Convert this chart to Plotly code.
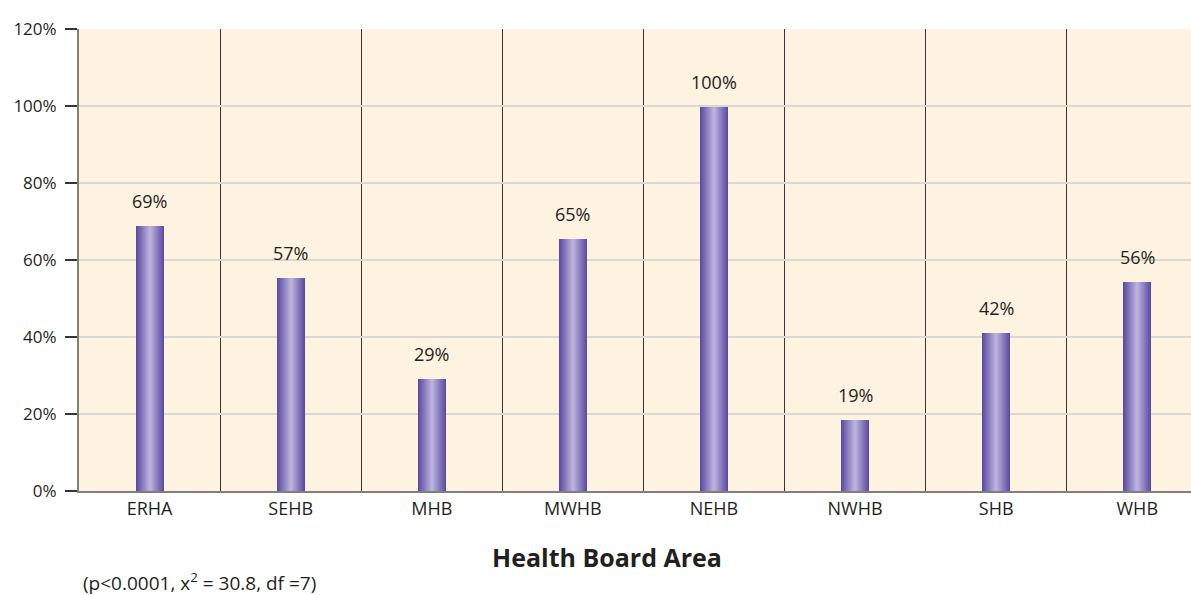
import plotly.graph_objects as go

# data
areas = ['ERHA', 'SEHB', 'MHB', 'MWHB', 'NEHB', 'NWHB', 'SHB', 'WHB']
values = [68.8, 55.2, 29.1, 65.5, 99.8, 18.4, 41.0, 54.3]
labels = ['69%', '57%', '29%', '65%', '100%', '19%', '42%', '56%']
y_ticks = [0, 20, 40, 60, 80, 100, 120]

FONT = 'Open Sans'
TXT = '#231F20'

fig = go.Figure()

# cylinder look: stack narrower, lighter bars on top of each other
n_layers = 14
dark = (92, 76, 160)
light = (186, 178, 222)
bar_w = 0.198
for k in range(n_layers):
    t = k / (n_layers - 1)
    c = tuple(round(dark[i] + (light[i] - dark[i]) * t) for i in range(3))
    fig.add_trace(go.Bar(
        x=list(range(len(areas))),
        y=values,
        width=bar_w * (1 - k / n_layers),
        marker=dict(color='rgb(%d,%d,%d)' % c, line=dict(width=0)),
        hoverinfo='skip',
        showlegend=False,
    ))

# value labels above the bars
for i, (v, lab) in enumerate(zip(values, labels)):
    fig.add_annotation(x=i, y=v, text=lab, showarrow=False, yshift=25,
                       font=dict(family=FONT, size=18, color=TXT))

fig.add_annotation(x=0.475, y=-0.143, xref='paper', yref='paper', yanchor='middle',
                   text='<b>Health Board Area</b>', showarrow=False,
                   font=dict(family=FONT, size=25, color=TXT))
fig.add_annotation(x=0.002, y=-0.196, xref='paper', yref='paper',
                   xanchor='left', yanchor='middle',
                   text='(p<0.0001, x<sup>2</sup> = 30.8, df =7)', showarrow=False,
                   font=dict(family=FONT, size=19, color=TXT))

fig.update_layout(
    width=1191, height=595,
    margin=dict(l=79, r=0, t=29, b=104, autoexpand=False),
    paper_bgcolor='white',
    plot_bgcolor='#FEF2E0',
    barmode='overlay',
    bargap=0,
    font=dict(family=FONT, size=18, color=TXT),
    xaxis=dict(
        range=[-0.5, -0.5 + 1112 / 141.1],
        tickvals=list(range(len(areas))),
        ticktext=areas,
        showgrid=False, automargin=False,
        showline=True, linecolor='#7F7F7F', linewidth=2,
        ticks='', zeroline=False,
        minor=dict(tickvals=[i + 0.5 for i in range(len(areas))],
                   showgrid=True, gridcolor='#3A3335', gridwidth=1.3, ticks=''),
        tickfont=dict(family=FONT, size=18, color=TXT),
    ),
    yaxis=dict(
        range=[0, 120],
        tickvals=y_ticks,
        ticktext=['%d%%' % v for v in y_ticks],
        showgrid=False, automargin=False,
        zeroline=False,
        showline=True, linecolor='#7F7F7F', linewidth=2,
        ticks='outside', ticklen=12, tickwidth=1.5, tickcolor='#3A3335',
        ticklabelstandoff=5,
        minor=dict(tickvals=y_ticks[1:-1], showgrid=True,
                   gridcolor='#DAD6D0', gridwidth=1.5, ticks=''),
        tickfont=dict(family=FONT, size=17, color=TXT),
    ),
)

# drop the browser's default page margin so the figure sits at the top-left corner
fig.write_html('out.html',
               config={'displayModeBar': False},
               post_script="document.body.style.margin='0';"
                           "document.body.style.overflow='hidden';")
